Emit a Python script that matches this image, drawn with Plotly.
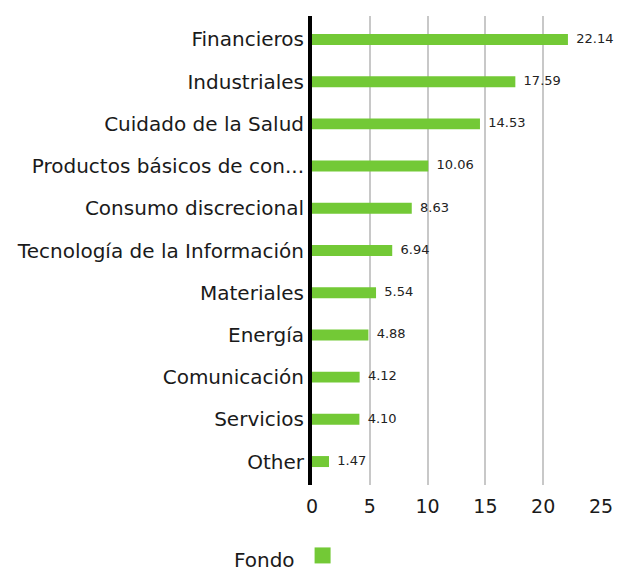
import plotly.graph_objects as go

categories = ["Financieros", "Industriales", "Cuidado de la Salud", "Productos básicos de con...",
              "Consumo discrecional", "Tecnología de la Información", "Materiales", "Energía",
              "Comunicación", "Servicios", "Other"]
values = [22.14, 17.59, 14.53, 10.06, 8.63, 6.94, 5.54, 4.88, 4.12, 4.10, 1.47]
labels = ["22.14", "17.59", "14.53", "10.06", "8.63", "6.94", "5.54", "4.88", "4.12", "4.10", "1.47"]
tick_vals = [0, 5, 10, 15, 20, 25]

GREEN = "#73c936"
FONT = "DejaVu Sans"

fig = go.Figure()
fig.add_trace(go.Bar(
    x=values, y=categories, orientation="h",
    marker=dict(color=GREEN, line=dict(width=0)),
    width=0.26, showlegend=False, hoverinfo="x+y",
))
fig.add_trace(go.Scatter(
    x=values, y=categories, mode="text", text=labels,
    textposition="middle right", texttemplate="  %{text}",
    textfont=dict(size=13, color="#222222", family=FONT),
    cliponaxis=False, showlegend=False, hoverinfo="skip",
))
fig.add_trace(go.Scatter(
    x=[None], y=[None], mode="markers", name=" ",
    marker=dict(symbol="square", size=20, color=GREEN),
    showlegend=True,
))

fig.update_layout(
    width=617, height=578,
    margin=dict(l=312, r=16, t=16, b=93, autoexpand=False),
    paper_bgcolor="white", plot_bgcolor="white",
    font=dict(family=FONT, size=20, color="#1a1a1a"),
    xaxis=dict(range=[0, 25], tickvals=tick_vals, showgrid=True, gridcolor="#c8c8c8",
               gridwidth=2, zeroline=False, showline=False, ticks="",
               tickfont=dict(size=19, color="#1a1a1a"), ticklabelstandoff=8,
               fixedrange=True, automargin=False),
    yaxis=dict(autorange="reversed", showline=True, linecolor="black", linewidth=4,
               ticks="", showgrid=False, tickfont=dict(size=20, color="#1a1a1a"),
               ticklabelstandoff=0, fixedrange=True, automargin=False),
    legend=dict(orientation="h", x=-0.277, xanchor="left", y=-0.196, yanchor="bottom",
                borderwidth=0, bgcolor="rgba(0,0,0,0)",
                title=dict(text="Fondo", side="left", font=dict(size=20, color="#1a1a1a")),
                itemsizing="trace", font=dict(size=1)),
)

fig.write_html("out.html", config={"displayModeBar": False},
               post_script="document.body.style.margin='0';document.body.style.overflow='hidden';")
